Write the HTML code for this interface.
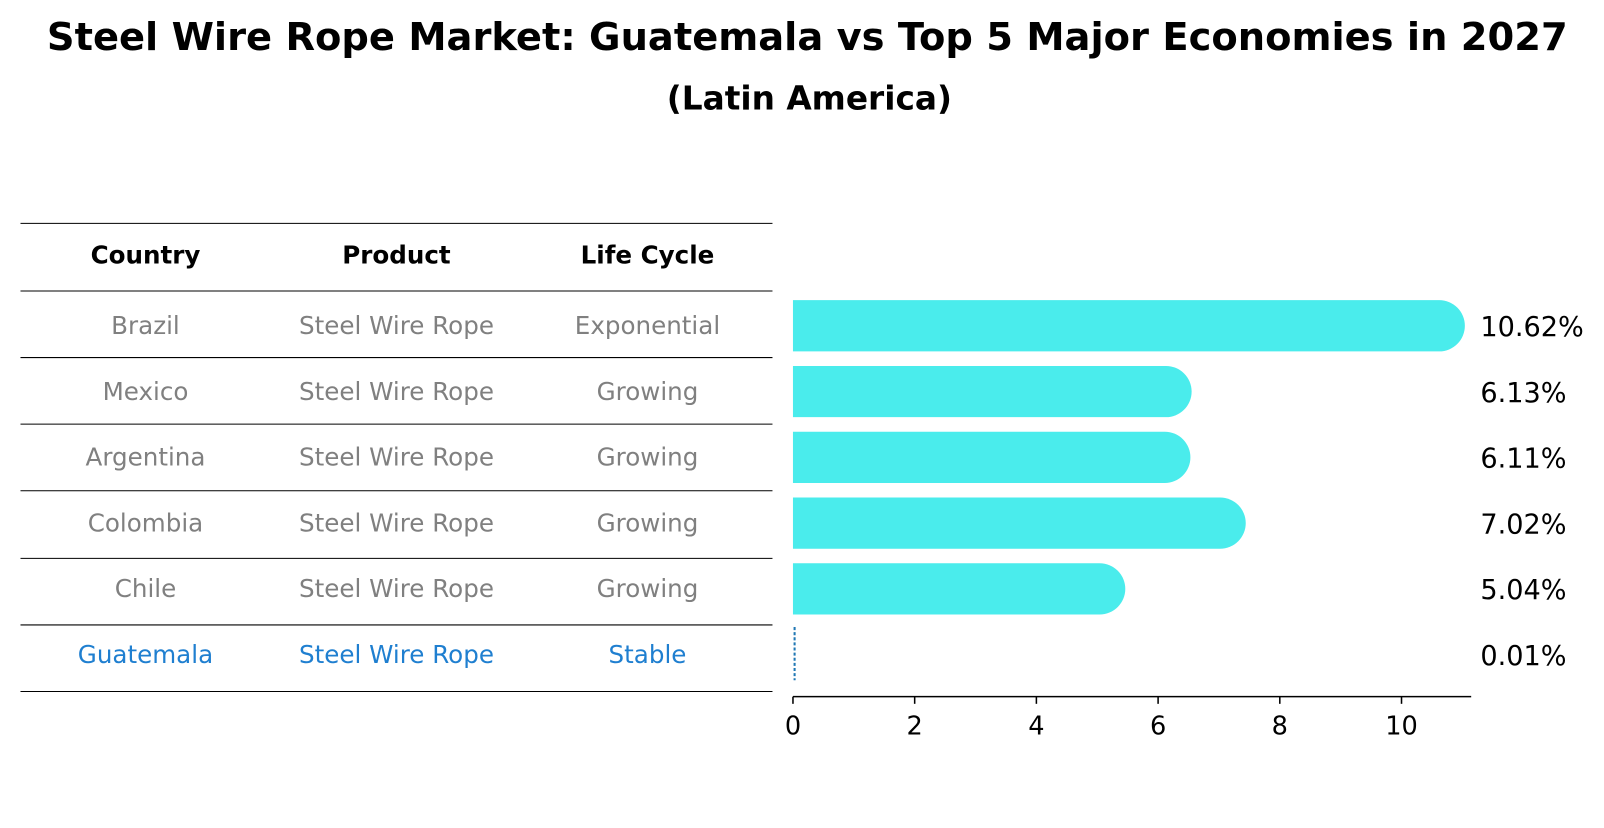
<!DOCTYPE html>
<html><head><meta charset="utf-8"><style>
body{margin:0;background:#fff;font-family:"Liberation Sans","DejaVu Sans",sans-serif;}
svg text{font-family:"DejaVu Sans","Liberation Sans",sans-serif;}
</style></head><body>
<svg id="c" width="1604" height="823" xmlns="http://www.w3.org/2000/svg">
<g transform="scale(1.0245)">
<text x="788" y="49" text-anchor="middle" font-size="37.5" font-weight="bold">Steel Wire Rope Market: Guatemala vs Top 5 Major Economies in 2027</text>
<text x="790" y="107" text-anchor="middle" font-size="32" font-weight="bold">(Latin America)</text>
<g id="tbl"></g>
<g id="bars"></g>
<g id="axis"></g>
</g>
</svg>
<script>
const countries=["Brazil","Mexico","Argentina","Colombia","Chile","Guatemala"];
const products=["Steel Wire Rope","Steel Wire Rope","Steel Wire Rope","Steel Wire Rope","Steel Wire Rope","Steel Wire Rope"];
const lifeCycles=["Exponential","Growing","Growing","Growing","Growing","Stable"];
const values=[10.62,6.13,6.11,7.02,5.04,0.01];
const ticks=[0,2,4,6,8,10];
const NS="http://www.w3.org/2000/svg";
function mk(t,a,p){const e=document.createElementNS(NS,t);for(const k in a)e.setAttribute(k,a[k]);p.appendChild(e);return e;}
const x0=774,ppu=59.4,xs=v=>x0+v*ppu;
const rowY=i=>318+i*64.2;
const tbl=document.getElementById('tbl'),bars=document.getElementById('bars'),axis=document.getElementById('axis');
const lineYs=[218,284,349,414,479,545,610,675];
lineYs.forEach((y,i)=>{const l=mk('line',{x1:20,x2:754,y1:y,y2:y,stroke:'#000','stroke-width':1},tbl);

});
const cx=[142,387,632];
["Country","Product","Life Cycle"].forEach((h,j)=>{const t=mk('text',{x:cx[j],y:257,'text-anchor':'middle','font-size':24,'font-weight':'bold'},tbl);t.textContent=h;

});
countries.forEach((c,i)=>{const y=rowY(i)+8;const col=i===countries.length-1?'#1f7fd0':'#808080';
[c,products[i],lifeCycles[i]].forEach((s,j)=>{const t=mk('text',{x:cx[j],y:y,'text-anchor':'middle','font-size':24,fill:col},tbl);t.textContent=s;

});
const v=values[i];const yc=rowY(i);
if(v<0.5){const l=mk('line',{x1:xs(v)+1,x2:xs(v)+1,y1:yc-27,y2:yc+25,stroke:'#1f77b4','stroke-width':2,'stroke-dasharray':'3,2'},bars);

}
else{const p=mk('path',{d:`M${x0},${yc-25}H${xs(v)}A25,25 0 0 1 ${xs(v)},${yc+25}H${x0}Z`,fill:'#4aecec'},bars);

}
const t=mk('text',{x:1445,y:yc+10,'font-size':26.5},bars);t.textContent=v.toFixed(2)+'%';

});
const al=mk('line',{x1:x0,x2:1436,y1:680,y2:680,stroke:'#000','stroke-width':1.5},axis);


ticks.forEach(v=>{const l=mk('line',{x1:xs(v),x2:xs(v),y1:680,y2:687,stroke:'#000','stroke-width':1.5},axis);


const t=mk('text',{x:xs(v),y:717,'text-anchor':'middle','font-size':25},axis);t.textContent=v;

});
</script>
</body></html>
